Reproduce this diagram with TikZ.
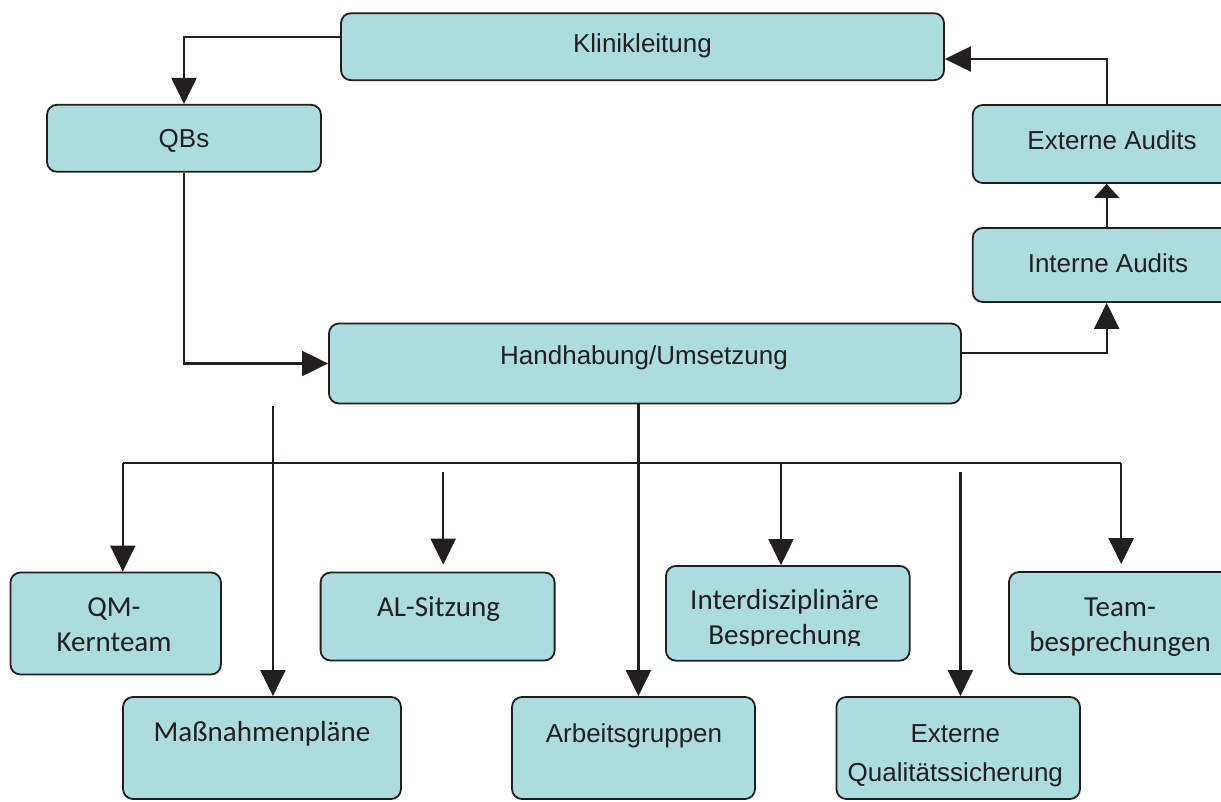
\documentclass[tikz,border=0pt]{standalone}
\usepackage{fontspec}
\setmainfont{Liberation Sans}
\newfontfamily\arialfont{Liberation Sans}
\newfontfamily\calfont{Carlito}
\usetikzlibrary{arrows.meta}
\definecolor{boxfill}{HTML}{ADDCDE}
\definecolor{ink}{HTML}{231F20}
\begin{document}
\begin{tikzpicture}[x=1pt,y=-1pt,
  box/.style={draw=ink,line width=1.8pt,fill=boxfill,rounded corners=10pt,inner sep=0pt},
  arial/.style={font=\arialfont\fontsize{26}{38.7}\selectfont,text=ink,inner sep=0pt,anchor=base,align=center},
  cal/.style={font=\calfont\fontsize{29}{35}\selectfont,text=ink,inner sep=0pt,anchor=base,align=center},
  conn/.style={draw=ink,line width=2.2pt},
  arr/.style={conn,-{Triangle[width=25pt,length=26pt]}},
  sarr/.style={conn,-{Triangle[width=25pt,length=14pt]}}]
\useasboundingbox[fill=white] (0,0) rectangle (1221,801);

% free connector ends
\coordinate (busL) at (122.8,463.3);
\coordinate (busR) at (1121.2,463.3);
\coordinate (busI) at (781,463.3);
\coordinate (mpTop) at (272.9,406);
\coordinate (agTop) at (638.4,404);
\coordinate (alTop) at (443.2,471.7);
\coordinate (eqTop) at (960.4,471.7);

% boxes
\node[box,minimum width=603pt,minimum height=67pt] (kl) at (642.5,46.7) {};
\node[box,minimum width=274pt,minimum height=67pt] (qb) at (184,138.3) {};
\node[box,minimum width=268pt,minimum height=78pt] (ea) at (1106.7,144) {};
\node[box,minimum width=268pt,minimum height=74pt] (ia) at (1106.7,265) {};
\node[box,minimum width=632pt,minimum height=80pt] (hu) at (645,363.5) {};
\node[box,minimum width=210.5pt,minimum height=102pt] (qm) at (115.7,623.5) {};
\node[box,minimum width=234pt,minimum height=88pt] (al) at (437.6,616.5) {};
\node[box,minimum width=243.7pt,minimum height=94.7pt] (id) at (787.8,613.3) {};
\node[box,minimum width=251pt,minimum height=102pt] (tb) at (1134.5,623) {};
\node[box,minimum width=278pt,minimum height=102pt] (mp) at (262,748) {};
\node[box,minimum width=243pt,minimum height=102pt] (ag) at (633.5,748) {};
\node[box,minimum width=243.6pt,minimum height=102pt] (eq) at (958.2,748) {};

% texts (multi-line: base = last line)
\node[arial] (klt) at (642.5,52.3) {Klinikleitung};
\node[arial] (qbt) at (184,147.5) {QBs};
\node[arial] (eat) at (1112,149.5) {Externe Audits};
\node[arial] (iat) at (1108,272.5) {Interne Audits};
\node[arial] (hut) at (644,364.3) {Handhabung/Umsetzung};
\node[cal] (qmt) at (114,651) {QM-\\Kernteam};
\node[cal] (alt) at (438.5,616) {AL-Sitzung};
\begin{scope}
\clip (660,560) rectangle (910,645.5);
\node[cal] (idt) at (784.6,644.3) {Interdisziplinäre\\Besprechung};
\end{scope}
\node[cal] (tbt) at (1120,651) {Team-\\besprechungen};
\node[cal] (mpt) at (262,741) {Maßnahmenpläne};
\node[arial] (agt) at (634,742.3) {Arbeitsgruppen};
\node[arial] (eqt) at (955.3,781) {Externe\\Qualitätssicherung};

% connectors
\draw[arr] ([yshift=10pt]kl.west) -| (qb.north);
\draw[arr] (qb.south) |- (hu.west);
\draw[arr] ([yshift=10.2pt]hu.east) -| (ia.south);
\draw[sarr] (ia.north) -- (ea.south);
\draw[arr] (ea.north) |- ([yshift=-12.3pt]kl.east);
\draw[arr] (mpTop) -- (mpTop |- mp.north);
\draw[arr] (agTop) -- (agTop |- ag.north);
\draw[conn] (busL) -- (busR);
\draw[arr] (busL) -- (busL |- qm.north);
\draw[arr] (busI) -- (busI |- id.north);
\draw[arr,shorten >=7pt] (busR) -- (busR |- tb.north);
\draw[arr,shorten >=7pt] (alTop) -- (alTop |- al.north);
\draw[arr] (eqTop) -- (eqTop |- eq.north);
\end{tikzpicture}
\end{document}
